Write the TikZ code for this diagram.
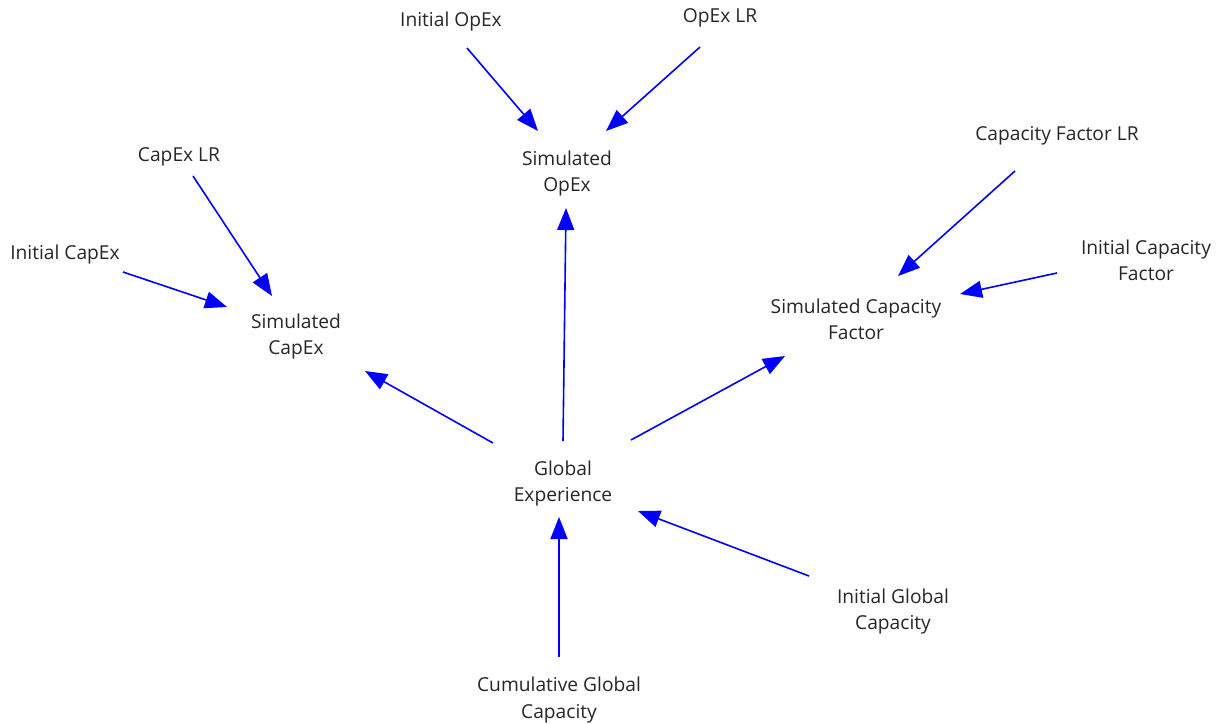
\documentclass[tikz,border=0pt]{standalone}
\usepackage{fontspec}
\setmainfont{Open Sans}
\usetikzlibrary{arrows.meta}
\begin{document}
\begin{tikzpicture}[x=1pt,y=-1pt,
  lbl/.style={align=center,font=\fontsize{19.2}{26}\selectfont,text=black!85,inner sep=0pt,yshift=-2pt},
  conn/.style={draw=blue,line width=1.6pt,-{Triangle[length=22pt,width=17pt]}}]
\useasboundingbox (0,0) rectangle (1222,723);
\node[lbl] (io) at (451,20) {Initial OpEx};
\node[lbl] (olr) at (720,16) {OpEx LR};
\node[lbl] (so) at (567,172) {Simulated\\OpEx};
\node[lbl] (clr) at (179,155) {CapEx LR};
\node[lbl] (ic) at (65,253) {Initial CapEx};
\node[lbl] (sc) at (296,335) {Simulated\\CapEx};
\node[lbl] (cflr) at (1057,134) {Capacity Factor LR};
\node[lbl] (icf) at (1146,258) {Initial Capacity\\Factor};
\node[lbl] (scf) at (856,317) {Simulated Capacity\\Factor};
\node[lbl] (ge) at (563,482) {Global\\Experience};
\node[lbl] (igc) at (893,610) {Initial Global\\Capacity};
\node[lbl] (cgc) at (559,698) {Cumulative Global\\Capacity};
% connector end points
\coordinate (ioA) at (467,48);   \coordinate (soA) at (538,131);
\coordinate (olrA) at (700,47);  \coordinate (soB) at (606,131);
\coordinate (clrA) at (193,176); \coordinate (scA) at (272,296);
\coordinate (icA) at (123,272);  \coordinate (scB) at (227,307);
\coordinate (cflrA) at (1015,171); \coordinate (scfA) at (898,276);
\coordinate (icfA) at (1057,273);  \coordinate (scfB) at (960,294);
\coordinate (geA) at (493,443);  \coordinate (scC) at (365,371);
\coordinate (geB) at (563,441);  \coordinate (soC) at (566,208);
\coordinate (geC) at (631,440);  \coordinate (scfC) at (785,356);
\coordinate (igcA) at (809,576); \coordinate (geD) at (638,511);
\coordinate (cgcA) at (559,657); \coordinate (geE) at (559,517);
\draw[conn] (ioA) -- (soA);
\draw[conn] (olrA) -- (soB);
\draw[conn] (clrA) -- (scA);
\draw[conn] (icA) -- (scB);
\draw[conn] (cflrA) -- (scfA);
\draw[conn] (icfA) -- (scfB);
\draw[conn] (geA) -- (scC);
\draw[conn] (geB) -- (soC);
\draw[conn] (geC) -- (scfC);
\draw[conn] (igcA) -- (geD);
\draw[conn] (cgcA) -- (geE);
\end{tikzpicture}
\end{document}
